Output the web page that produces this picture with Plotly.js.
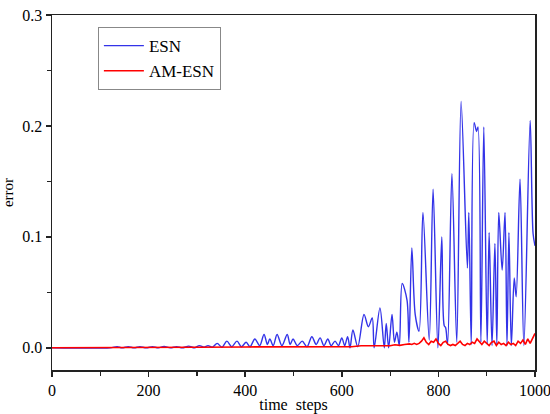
<!DOCTYPE html>
<html>
<head>
<meta charset="utf-8">
<script src="https://cdn.plot.ly/plotly-3.0.1.min.js"></script>
<style>html,body{margin:0;padding:0;background:#fff;}#chart{width:550px;height:414px;}</style>
</head>
<body>
<div id="chart"></div>
<script>
// ESN error (time step, value)
var esnT = [0,120,135,145,158,170,182,195,208,220,232,245,258,270,283,295,305,315,323,332,342,352,362,372,383,392,402,410,420,430,439,446,451,458,466,476,487,493,499,508,518,528,538,547,555,563,571,578,586,593,600,606,612,617,623,633,646,655,663,667,679,688,692,697,704,709,714,719,725,735,739,745,752,760,768,781,789,799,807,812,815,819,828,838,847,860,863,868,874,879,882,888,894,901,905,911,917,921,925,932,938,942,946,951,957,961,969,977,990,996,1000];
var esnV = [0,0,0.001,0,0.001,0,0.001,0,0.001,0,0.0012,0,0.001,0,0.0015,0,0.002,0.0005,0.002,0.0005,0.004,0.0005,0.006,0.001,0.006,0.001,0.005,0.001,0.008,0.002,0.012,0.003,0.008,0.002,0.012,0.002,0.012,0.003,0.008,0.002,0.006,0.001,0.010,0.003,0.009,0.002,0.008,0.002,0.006,0.002,0.009,0.002,0.010,0.0,0.016,0.001,0.030,0.019,0.027,0.0,0.036,0.0,0.022,0.0,0.030,0.005,0.014,0.002,0.058,0.043,0.005,0.090,0.030,0.015,0.122,0.007,0.143,0.0,0.100,0.020,0.018,0.003,0.157,0.005,0.222,0.072,0.122,0.003,0.203,0.195,0.199,0.005,0.199,0.003,0.104,0.002,0.094,0.003,0.122,0.070,0.122,0.002,0.104,0.002,0.063,0.046,0.152,0.002,0.205,0.103,0.092];
// AM-ESN error (time step, value)
var amT = [0,100,200,300,400,500,550,600,620,640,660,680,700,710,720,730,740,745,750,755,760,765,770,775,780,785,790,795,800,805,810,815,820,825,830,835,840,845,850,855,860,865,870,875,880,885,890,895,900,905,910,915,920,925,930,935,940,945,950,955,960,965,970,975,980,985,990,995,1000];
var amV = [0,0,0.0003,0.0005,0.0008,0.001,0.0008,0.0012,0.001,0.0018,0.002,0.0022,0.0018,0.0028,0.0022,0.003,0.0035,0.003,0.004,0.003,0.004,0.006,0.009,0.005,0.003,0.006,0.005,0.008,0.004,0.002,0.005,0.006,0.003,0.002,0.003,0.002,0.004,0.006,0.003,0.002,0.004,0.003,0.005,0.004,0.008,0.005,0.003,0.006,0.004,0.002,0.005,0.006,0.002,0.005,0.003,0.004,0.002,0.005,0.003,0.004,0.002,0.006,0.004,0.007,0.003,0.008,0.004,0.009,0.013];

var xTicks = [0,200,400,600,800,1000];
var yTicks = [0.0,0.1,0.2,0.3];
var seriesNames = ['ESN','AM-ESN'];

var fam = 'Times New Roman, Liberation Serif, serif';
var font = {family:fam, size:16, color:'#000'};

var traces = [
  {x:esnT, y:esnV, name:seriesNames[0], type:'scatter', mode:'lines',
   line:{color:'#3333e8', width:1.4, shape:'spline', smoothing:0.9}},
  {x:amT, y:amV, name:seriesNames[1], type:'scatter', mode:'lines',
   line:{color:'#ff0000', width:1.6}}
];

var layout = {
  width:550, height:414,
  margin:{l:52, r:15, t:15, b:44},
  paper_bgcolor:'#fff', plot_bgcolor:'#fff',
  font:font,
  showlegend:true,
  legend:{x:0.095, y:0.966, xanchor:'left', yanchor:'top',
          bgcolor:'#fff', bordercolor:'#888', borderwidth:1,
          font:{family:fam, size:17, color:'#000'},
          tracegroupgap:0, itemwidth:40},
  xaxis:{range:[0,1000], tickvals:xTicks, ticktext:xTicks.map(String),
         tickfont:{family:fam, size:16, color:'#000'}, ticklabeloverflow:'allow',
         showgrid:false, zeroline:false, showline:true, linecolor:'#222', linewidth:1.5,
         mirror:true, ticks:'outside', ticklen:5, tickwidth:1.5, tickcolor:'#222',
         minor:{dtick:100, ticks:'outside', ticklen:4, tickwidth:1.2, tickcolor:'#222', showgrid:false},
         title:{text:'time\u00a0 steps', font:{family:fam, size:16}, standoff:1}},
  yaxis:{range:[-0.02,0.3], tickvals:yTicks, ticktext:yTicks.map(function(v){return v.toFixed(1);}),
         tickfont:{family:fam, size:16, color:'#000'},
         showgrid:false, zeroline:false, showline:true, linecolor:'#222', linewidth:1.5,
         mirror:true, ticks:'outside', ticklen:5, tickwidth:1.5, tickcolor:'#222',
         minor:{tickvals:[0.05,0.15,0.25], ticks:'outside', ticklen:4, tickwidth:1.2, tickcolor:'#222', showgrid:false},
         title:{text:'error', font:{family:fam, size:15}, standoff:6}}
};

Plotly.newPlot('chart', traces, layout, {staticPlot:true, displayModeBar:false});
</script>
</body>
</html>
